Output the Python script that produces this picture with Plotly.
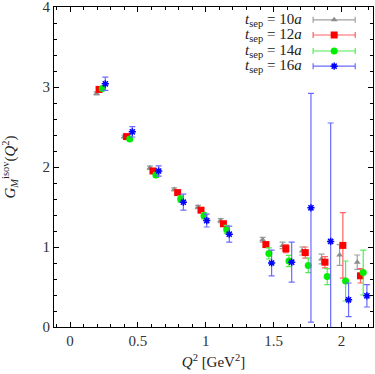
import plotly.graph_objects as go

# --- data ------------------------------------------------------------------
q2_10 = [0.196, 0.400, 0.589, 0.768, 0.943, 1.110, 1.419, 1.566, 1.710, 1.853, 1.986, 2.116]
gm_10 = [2.92, 2.38, 1.99, 1.72, 1.50, 1.33, 1.09, 1.02, 0.95, 0.85, 0.90, 0.81]
er_10 = [0.02, 0.02, 0.02, 0.02, 0.02, 0.025, 0.03, 0.04, 0.05, 0.06, 0.13, 0.09]

q2_12 = [0.214, 0.417, 0.611, 0.793, 0.965, 1.130, 1.443, 1.590, 1.733, 1.878, 2.010, 2.140]
gm_12 = [2.97, 2.38, 1.95, 1.68, 1.46, 1.29, 1.03, 0.98, 0.93, 0.81, 1.02, 0.64]
er_12 = [0.02, 0.02, 0.02, 0.02, 0.025, 0.03, 0.03, 0.05, 0.07, 0.07, 0.41, 0.09]

q2_14 = [0.238, 0.440, 0.633, 0.815, 0.987, 1.154, 1.465, 1.613, 1.755, 1.895, 2.030, 2.160]
gm_14 = [2.98, 2.35, 1.90, 1.60, 1.39, 1.22, 0.92, 0.825, 0.77, 0.63, 0.575, 0.68]
er_14 = [0.02, 0.02, 0.03, 0.04, 0.04, 0.05, 0.07, 0.07, 0.09, 0.10, 0.25, 0.28]

q2_16 = [0.260, 0.459, 0.653, 0.835, 1.007, 1.173, 1.485, 1.633, 1.775, 1.920, 2.052, 2.187]
gm_16 = [3.04, 2.44, 1.95, 1.56, 1.33, 1.16, 0.80, 0.81, 1.49, 1.07, 0.34, 0.39]
er_16 = [0.083, 0.065, 0.063, 0.10, 0.08, 0.10, 0.16, 0.25, 1.43, 1.48, 0.21, 0.14]

labels = ["10", "12", "14", "16"]
x_ticks = [0, 0.5, 1, 1.5, 2]
x_ticktext = ["0", "0.5", "1", "1.5", "2"]
y_ticks = [0, 1, 2, 3, 4]

# --- styling ---------------------------------------------------------------
FONT = "Liberation Serif, DejaVu Serif, serif"
series = [
    (q2_10, gm_10, er_10, "triangle-up", "#8c8c8c", "#a0a0a0", 6),
    (q2_12, gm_12, er_12, "square", "#ff0000", "#ff6060", 7),
    (q2_14, gm_14, er_14, "circle", "#00ee00", "#50ee50", 7),
    (q2_16, gm_16, er_16, "asterisk-open", "#0000ff", "#6a6aff", 6),
]

# legend key layout (data units, gnuplot-style key in the top right)
KEY_TEXT_X = 1.725
KEY_X = 1.946
KEY_HALF = 0.155
KEY_Y = [3.84, 3.65, 3.45, 3.26]

fig = go.Figure()
for (x, y, e, sym, col, ecol, size), lab, ky in zip(series, labels, KEY_Y):
    mk = dict(symbol=sym, color=col, size=size)
    if sym == "asterisk-open":
        mk["line"] = dict(color=col, width=1.5)
    fig.add_trace(go.Scatter(
        x=x, y=y, mode="markers", marker=mk, showlegend=False,
        error_y=dict(type="data", array=e, color=ecol, thickness=1.2, width=3),
    ))
    # key sample: marker with a horizontal error bar
    fig.add_trace(go.Scatter(
        x=[KEY_X], y=[ky], mode="markers", marker=mk, showlegend=False,
        error_x=dict(type="data", array=[KEY_HALF], color=ecol, thickness=1.2, width=3),
    ))
    fig.add_annotation(
        x=KEY_TEXT_X, y=ky, xanchor="right", yanchor="middle", showarrow=False,
        text=f"<i>t</i><sub>sep</sub> = {lab}<i>a</i>",
        font=dict(family=FONT, size=15, color="#222"),
    )

axis = dict(
    showline=True, linecolor="black", linewidth=1, mirror="ticks",
    ticks="inside", ticklen=5, tickcolor="black", showgrid=False, zeroline=False,
    tickfont=dict(family=FONT, size=15, color="#333"), automargin=False,
    ticklabeloverflow="allow",
)
fig.update_xaxes(
    **axis, range=[-0.118, 2.232], tickmode="array", tickvals=x_ticks, ticktext=x_ticktext,
    minor=dict(dtick=0.1, tick0=0, ticks="inside", ticklen=3, tickcolor="black", showgrid=False),
    title=dict(text="<i>Q</i><sup>2</sup> [GeV<sup>2</sup>]",
               font=dict(family=FONT, size=15, color="#222"), standoff=8),
)
fig.update_yaxes(
    **axis, range=[0, 4], tickmode="array", tickvals=y_ticks,
    minor=dict(dtick=0.2, tick0=0, ticks="inside", ticklen=3, tickcolor="black", showgrid=False),
    title=dict(text="<i>G</i><sub><i>M</i></sub><sup>isov</sup>(<i>Q</i><sup>2</sup>)",
               font=dict(family=FONT, size=15, color="#222"), standoff=24),
)
fig.update_layout(
    width=375, height=374,
    margin=dict(l=54, r=2, t=7, b=47),
    plot_bgcolor="white", paper_bgcolor="white",
)
# page body margin would shift the fixed-size figure; drop it
fig.write_html("out.html", config={"displayModeBar": False},
               post_script="document.body.style.margin='0';")
